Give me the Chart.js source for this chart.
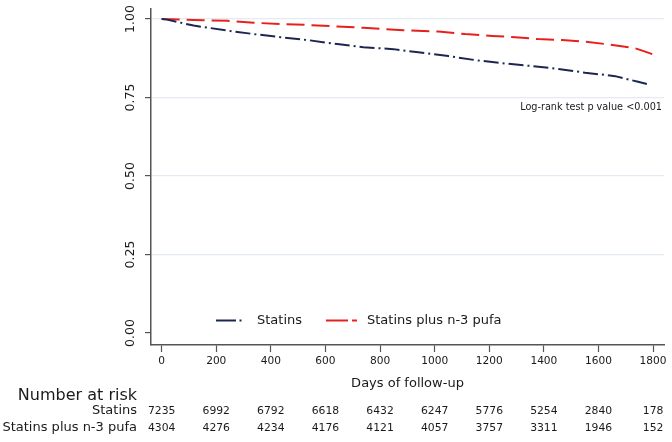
<!DOCTYPE html>
<html>
<head>
<meta charset="utf-8">
<script src="https://cdn.jsdelivr.net/npm/chart.js@4.4.1/dist/chart.umd.min.js"></script>
<style>
html,body{margin:0;padding:0;background:#fff;}
#wrap{position:relative;width:672px;height:442px;}
</style>
</head>
<body>
<div id="wrap"><canvas id="c" width="672" height="442"></canvas></div>
<script>
// ---- data ----
const seriesNames = ["Statins", "Statins plus n-3 pufa"];
const statinsDays = [0, 20, 60, 117, 241, 337, 435, 534, 643, 739, 849, 940, 1050, 1149, 1248, 1357, 1453, 1551, 1661, 1745, 1790];
const statinsSurv = [1.000, 0.998, 0.990, 0.979, 0.963, 0.952, 0.942, 0.933, 0.920, 0.910, 0.904, 0.894, 0.882, 0.869, 0.859, 0.850, 0.841, 0.829, 0.818, 0.800, 0.790];
const pufaDays = [0, 117, 241, 337, 435, 534, 643, 739, 885, 1013, 1112, 1211, 1295, 1379, 1467, 1551, 1636, 1734, 1771, 1797];
const pufaSurv = [1.000, 0.997, 0.994, 0.988, 0.984, 0.981, 0.976, 0.972, 0.964, 0.960, 0.952, 0.946, 0.942, 0.936, 0.933, 0.928, 0.919, 0.907, 0.896, 0.888];
const xTicks = [0, 200, 400, 600, 800, 1000, 1200, 1400, 1600, 1800];
const yTicks = [0, 0.25, 0.5, 0.75, 1.0];
const yTickLabels = ["0.00", "0.25", "0.50", "0.75", "1.00"];
const riskStatins = [7235, 6992, 6792, 6618, 6432, 6247, 5776, 5254, 2840, 178];
const riskPufa = [4304, 4276, 4234, 4176, 4121, 4057, 3757, 3311, 1946, 152];
const xTitle = "Days of follow-up";
const annotation = "Log-rank test p value <0.001";
const riskTitle = "Number at risk";

const NAVY = "#1b2752";
const RED = "#e8201c";
const FONT = "'DejaVu Sans', Verdana, sans-serif";
const TXT = "#1a1a1a";
const dashNavy = [15, 4, 2, 4];
const dashRed = [18, 7];

function pts(xs, ys){ return xs.map((x,i)=>({x:x, y:ys[i]})); }

const overlay = {
  id: 'overlay',
  afterDraw(chart){
    const ctx = chart.ctx;
    const xs = chart.scales.x, ys = chart.scales.y;
    const ca = chart.chartArea;
    ctx.save();
    ctx.fillStyle = TXT;
    // y tick labels, rotated
    ctx.font = "12.5px " + FONT;
    ctx.textAlign = 'center';
    ctx.textBaseline = 'middle';
    yTicks.forEach((v,i)=>{
      const py = ys.getPixelForValue(v);
      ctx.save();
      ctx.translate(131, py);
      ctx.rotate(-Math.PI/2);
      ctx.fillText(yTickLabels[i], 0, 0);
      ctx.restore();
    });
    // x tick labels
    ctx.font = "10.6px " + FONT;
    xTicks.forEach(v=>{
      ctx.fillText(String(v), xs.getPixelForValue(v), 361);
    });
    // x title
    ctx.font = "13px " + FONT;
    ctx.fillText(xTitle, (ca.left+ca.right)/2, 384);
    // annotation
    ctx.font = "9.7px " + FONT;
    ctx.textAlign = 'right';
    ctx.fillText(annotation, 662, 107);
    // legend
    const ly = 320.5;
    ctx.lineWidth = 2;
    ctx.strokeStyle = NAVY;
    ctx.setLineDash([]);
    ctx.beginPath(); ctx.moveTo(216, ly); ctx.lineTo(236, ly); ctx.stroke();
    ctx.beginPath(); ctx.moveTo(239.5, ly); ctx.lineTo(241.5, ly); ctx.stroke();
    ctx.strokeStyle = RED;
    ctx.beginPath(); ctx.moveTo(326, ly); ctx.lineTo(348, ly); ctx.stroke();
    ctx.beginPath(); ctx.moveTo(352, ly); ctx.lineTo(357, ly); ctx.stroke();
    ctx.font = "13px " + FONT;
    ctx.textAlign = 'left';
    ctx.fillStyle = TXT;
    ctx.fillText(seriesNames[0], 257, ly+0.5);
    ctx.fillText(seriesNames[1], 367, ly+0.5);
    // number at risk table
    ctx.textAlign = 'right';
    ctx.font = "16px " + FONT;
    ctx.fillText(riskTitle, 137, 396);
    ctx.font = "13px " + FONT;
    ctx.fillText(seriesNames[0], 137, 411);
    ctx.fillText(seriesNames[1], 137, 428);
    ctx.textAlign = 'center';
    ctx.font = "10.8px " + FONT;
    xTicks.forEach((v,i)=>{
      const px = xs.getPixelForValue(v);
      ctx.fillText(String(riskStatins[i]), px, 411);
      ctx.fillText(String(riskPufa[i]), px, 428);
    });
    ctx.restore();
  }
};

new Chart(document.getElementById('c'), {
  type: 'line',
  data: {
    datasets: [
      { label: seriesNames[0], data: pts(statinsDays, statinsSurv), borderColor: NAVY, backgroundColor: NAVY,
        borderWidth: 2, borderDash: dashNavy, pointRadius: 0, tension: 0, fill: false },
      { label: seriesNames[1], data: pts(pufaDays, pufaSurv), borderColor: RED, backgroundColor: RED,
        borderWidth: 2, borderDash: dashRed, pointRadius: 0, tension: 0, fill: false }
    ]
  },
  options: {
    responsive: false,
    animation: false,
    layout: { padding: { left: 0, right: 8, top: 9, bottom: 0 } },
    plugins: { legend: { display: false }, tooltip: { enabled: false } },
    scales: {
      x: {
        type: 'linear', min: -39, max: 1840,
        afterBuildTicks: s => { s.ticks = xTicks.map(v=>({value:v})); },
        afterFit: s => { s.height = 97; },
        ticks: { display: false },
        grid: { drawOnChartArea: false, drawTicks: true, tickLength: 7, tickColor: '#555', tickWidth: 1.2 },
        border: { display: true, color: '#555', width: 1.5 }
      },
      y: {
        type: 'linear', min: -0.0382, max: 1.0318,
        afterBuildTicks: s => { s.ticks = yTicks.map(v=>({value:v})); },
        afterFit: s => { s.width = 151; },
        ticks: { display: false },
        grid: { drawOnChartArea: true, drawTicks: true, tickLength: 6, tickColor: '#555', tickWidth: 1.2,
          color: c => (c.tick && c.tick.value === 0) ? 'rgba(0,0,0,0)' : '#e3eaf1', lineWidth: 1.2 },
        border: { display: true, color: '#555', width: 1.5 }
      }
    }
  },
  plugins: [overlay]
});
</script>
</body>
</html>
